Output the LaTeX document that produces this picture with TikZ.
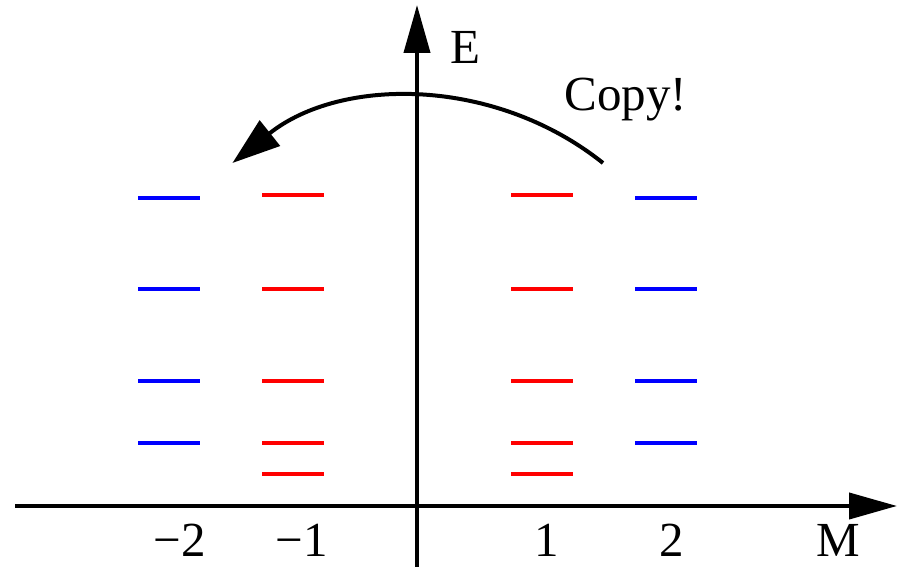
\documentclass[tikz,border=0pt]{standalone}
\usepackage{fontspec}
\setmainfont{Liberation Serif}
\usetikzlibrary{arrows.meta}
\definecolor{lvred}{RGB}{255,0,0}
\definecolor{lvblue}{RGB}{0,0,255}
\begin{document}
\begin{tikzpicture}[x=1pt,y=1pt,
  axis/.style={line width=4pt,-{Triangle[length=48pt,width=26pt]}},
  lvlred/.style={line width=3.4pt,lvred},
  lvlblue/.style={line width=3.4pt,lvblue},
  lbl/.style={font=\fontsize{49}{58}\selectfont,inner sep=0pt},
  copyarrow/.style={line width=4pt,-{Triangle[length=48pt,width=32pt]}}]
\useasboundingbox (0,0) rectangle (898,567);
% axes
\coordinate (xs) at (15,61);
\coordinate (xe) at (897,61);
\coordinate (ys) at (417,0);
\coordinate (ye) at (417,562);
\draw[axis] (xs) -- (xe);
\draw[axis] (ys) -- (ye);
% levels
\foreach \y in {369,278,186,124} {
  \draw[lvlblue] (138,\y) -- (200,\y);
  \draw[lvlblue] (635,\y) -- (697,\y);
}
\foreach \y in {372,278,186,124,93} {
  \draw[lvlred] (262,\y) -- (324,\y);
  \draw[lvlred] (511,\y) -- (573,\y);
}
% labels
\node[lbl] (lm2) at (180,27) {\char"2212 2};
\node[lbl] (lm1) at (302,27) {\char"2212 1};
\node[lbl] (l1) at (547,27) {1};
\node[lbl] (l2) at (672,27) {2};
\node[lbl] (lM) at (838,27) {M};
\node[lbl] (lE) at (465,520) {E};
\node[lbl] (lcopy) at (626,467) {Copy!};
% copy arrow
\coordinate (cs) at (603,404);
\draw[copyarrow] (cs) arc[start angle=51.4, end angle=128.6, radius=297];
\end{tikzpicture}
\end{document}
